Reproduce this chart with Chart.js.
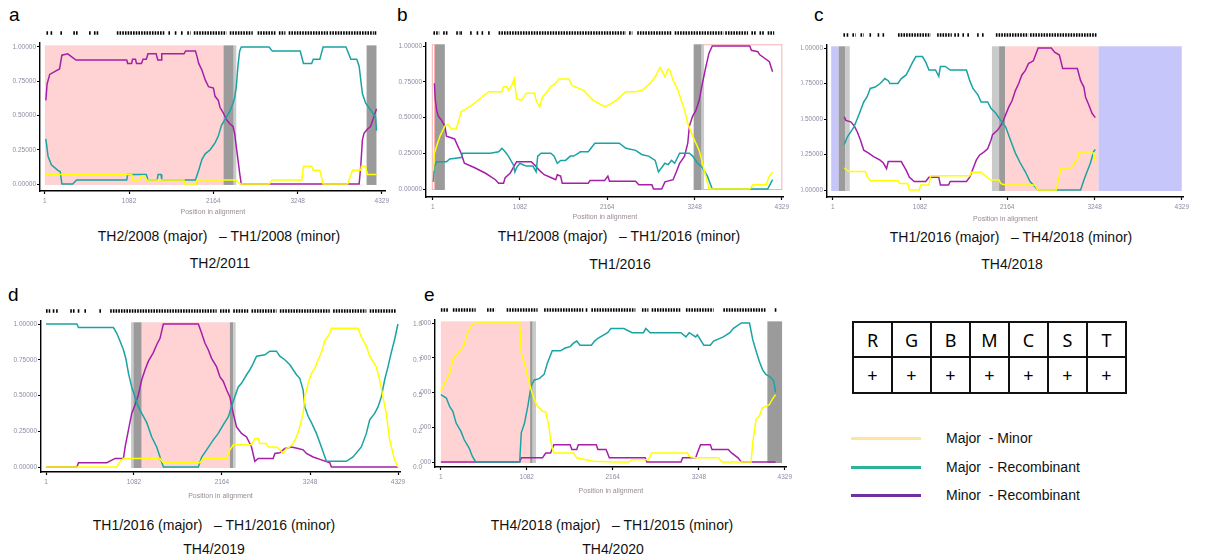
<!DOCTYPE html>
<html>
<head>
<meta charset="utf-8">
<script src="https://cdn.jsdelivr.net/npm/chart.js@4.4.0/dist/chart.umd.min.js"></script>
<style>
  body { margin: 0; background: #fff; width: 1208px; height: 560px; position: relative; overflow: hidden;
         font-family: "Liberation Sans", Arial, sans-serif; }
  canvas { position: absolute; }
  .letter { position: absolute; font-size: 19px; line-height: 19px; color: #000; }
  .cap { position: absolute; font-size: 14px; line-height: 16px; transform: translate(-50%, -50%); white-space: pre; color: #111; }
  table.ser { position: absolute; left: 852px; top: 321px; border-collapse: collapse;
              font-family: "Noto Sans", "Open Sans", sans-serif; }
  table.ser td { border: 2px solid #111; width: 37px; text-align: center; padding: 0; }
  table.ser tr.h td { height: 33px; font-size: 18px; }
  table.ser tr.p td { height: 34px; font-size: 18px; }
  .leg { position: absolute; left: 851px; width: 70px; height: 3px; }
  .legt { position: absolute; left: 946px; font-size: 14px; line-height: 16px; transform: translateY(-50%); white-space: pre; color: #111; }
</style>
</head>
<body>

<div class="letter" style="left:9px;top:5px">a</div>
<div class="letter" style="left:397px;top:5px">b</div>
<div class="letter" style="left:814px;top:5px">c</div>
<div class="letter" style="left:8px;top:285px">d</div>
<div class="letter" style="left:424px;top:285px">e</div>

<div class="cap" style="left:219px;top:236px">TH2/2008 (major)   – TH1/2008 (minor)</div>
<div class="cap" style="left:220px;top:263px">TH2/2011</div>
<div class="cap" style="left:619px;top:236px">TH1/2008 (major)   – TH1/2016 (minor)</div>
<div class="cap" style="left:620px;top:264px">TH1/2016</div>
<div class="cap" style="left:1011px;top:237px">TH1/2016 (major)   – TH4/2018 (minor)</div>
<div class="cap" style="left:1012px;top:264px">TH4/2018</div>
<div class="cap" style="left:214px;top:525px">TH1/2016 (major)   – TH1/2016 (minor)</div>
<div class="cap" style="left:214px;top:549px">TH4/2019</div>
<div class="cap" style="left:612px;top:525px">TH4/2018 (major)   – TH1/2015 (minor)</div>
<div class="cap" style="left:613px;top:549px">TH4/2020</div>

<table class="ser">
  <tr class="h"><td>R</td><td>G</td><td>B</td><td>M</td><td>C</td><td>S</td><td>T</td></tr>
  <tr class="p"><td>+</td><td>+</td><td>+</td><td>+</td><td>+</td><td>+</td><td>+</td></tr>
</table>

<div class="leg" style="top:437px;background:#fde69b"></div>
<div class="legt" style="top:438px">Major  - Minor</div>
<div class="leg" style="top:466px;background:#2db39a"></div>
<div class="legt" style="top:467px">Major  - Recombinant</div>
<div class="leg" style="top:494px;background:#7030a0"></div>
<div class="legt" style="top:495px">Minor  - Recombinant</div>

<script>
// axes
const xTicks = [1, 1082, 2164, 3248, 4329];
const yTicks = [0, 0.25, 0.5, 0.75, 1];

// a: TH2/2011
const aMajMin = [[13,.07],[1115,.07],[1127,.03],[1220,.03],[1241,.06],[1283,.06],[1304,.03],[1788,.03],[1801,0],[1948,0],[1956,.03],[2460,.03],[2503,0],[2881,0],[2923,.03],[3302,.03],[3323,.13],[3428,.13],[3449,.10],[3533,.10],[3575,0],[3890,0],[3953,.10],[4059,.10],[4067,.13],[4122,.13],[4143,.07],[4261,.07]];
const aMajRec = [[13,.33],[42,.20],[84,.14],[168,.10],[198,.09],[219,0],[358,0],[408,.03],[1052,.03],[1064,.07],[1304,.07],[1325,.03],[1443,.03],[1455,.07],[1493,.07],[1502,.03],[1935,.03],[1977,.10],[2019,.18],[2061,.22],[2124,.25],[2187,.30],[2229,.35],[2271,.43],[2334,.49],[2376,.53],[2418,.59],[2439,.63],[2460,.71],[2481,.86],[2503,.97],[2524,1],[2881,1],[2923,.97],[3281,.97],[3323,.88],[3428,.88],[3449,.91],[3533,.91],[3575,1],[3869,1],[3932,.91],[4008,.91],[4038,.86],[4080,.66],[4122,.59],[4185,.54],[4248,.49],[4261,.39]];
const aMinRec = [[13,.61],[29,.73],[63,.80],[126,.82],[189,.84],[219,.94],[294,.95],[400,.905],[1052,.905],[1064,.88],[1115,.88],[1127,.91],[1165,.91],[1178,.88],[1241,.88],[1262,.91],[1304,.91],[1325,.95],[1430,.95],[1451,.905],[1493,.905],[1502,.95],[1788,.95],[1809,.97],[1935,.97],[1956,.93],[1977,.88],[2019,.83],[2061,.76],[2103,.71],[2166,.70],[2187,.64],[2229,.61],[2250,.56],[2292,.52],[2334,.47],[2376,.44],[2418,.42],[2439,.37],[2460,.27],[2481,.18],[2503,.08],[2524,0],[4038,0],[4059,.13],[4080,.32],[4101,.37],[4143,.40],[4185,.42],[4227,.49],[4261,.55]];
const aZones = [['pink',1,2296],['grey',2296,2427],['light',2427,2460],['grey',4134,4261]];
const aSites = [[21,55],[84,105],[210,231],[366,425],[568,601],[631,694],[925,1535],[1598,1620],[1680,1700],[1760,1780],[1830,1872],[1914,2334],[2376,2671],[2734,2965],[3007,3091],[3133,3638],[3659,4227],[4248,4269]];

// b: TH1/2016
const bMajMin = [[8,.13],[20,.25],[49,.30],[89,.37],[150,.44],[190,.45],[231,.42],[291,.42],[352,.54],[413,.56],[493,.59],[615,.645],[696,.68],[858,.68],[878,.715],[918,.715],[938,.69],[979,.725],[1011,.77],[1040,.63],[1100,.62],[1161,.67],[1262,.67],[1282,.62],[1323,.575],[1363,.645],[1404,.67],[1464,.715],[1525,.74],[1565,.77],[1687,.77],[1727,.725],[1869,.69],[1990,.62],[2132,.575],[2192,.59],[2273,.62],[2395,.68],[2516,.68],[2597,.69],[2698,.74],[2759,.785],[2819,.85],[2840,.83],[2880,.785],[2920,.84],[2941,.83],[2981,.76],[3042,.69],[3123,.55],[3163,.46],[3224,.37],[3264,.32],[3305,.27],[3345,.18],[3386,.09],[3426,0],[3932,0],[3972,.03],[4134,.03],[4175,.09],[4215,.12]];
const bMajRec = [[8,.05],[20,.16],[49,.19],[170,.19],[210,.21],[352,.22],[372,.25],[716,.25],[817,.26],[858,.285],[898,.26],[938,.23],[999,.17],[1019,.12],[1040,.15],[1080,.18],[1120,.17],[1161,.16],[1242,.16],[1282,.12],[1302,.23],[1343,.25],[1464,.25],[1505,.23],[1545,.18],[1586,.20],[1646,.20],[1707,.23],[1747,.23],[1808,.25],[1828,.26],[1929,.26],[2010,.32],[2314,.32],[2395,.285],[2516,.27],[2597,.24],[2678,.23],[2759,.20],[2799,.12],[2840,.15],[2880,.18],[2920,.17],[2961,.20],[3001,.18],[3062,.25],[3183,.25],[3224,.23],[3285,.18],[3345,.15],[3406,.09],[3467,0],[4154,0],[4215,.065]];
const bMinRec = [[20,.74],[32,.62],[49,.55],[69,.51],[109,.48],[150,.44],[170,.37],[271,.35],[311,.30],[352,.25],[392,.18],[514,.15],[655,.11],[777,.065],[817,.04],[878,.04],[898,.08],[959,.11],[999,.15],[1019,.17],[1040,.19],[1222,.19],[1262,.17],[1323,.13],[1383,.10],[1464,.08],[1525,.065],[1545,.10],[1586,.09],[1606,.04],[1929,.04],[1950,.06],[2132,.06],[2172,.09],[2192,.055],[2516,.055],[2556,.03],[2718,.03],[2738,0],[2840,0],[2880,.05],[2981,.065],[3022,.12],[3062,.18],[3123,.23],[3163,.32],[3183,.44],[3224,.51],[3264,.55],[3305,.62],[3345,.74],[3386,.85],[3426,.95],[3467,1],[3932,1],[3952,.97],[4033,.96],[4053,.94],[4175,.89],[4215,.82]];
const bZones = [['outline',-12,28],['grey',28,150],['outline',3325,4336],['grey',3236,3333],['light',3333,3365]];
const bSites = [[8,81],[129,190],[291,332],[352,372],[473,473],[554,554],[615,615],[696,696],[817,2395],[2435,2476],[2536,2961],[3001,3608],[3628,3911],[3952,4013],[4053,4114],[4154,4235]];

// c: TH4/2018
const cMajMin = [[142,.155],[202,.13],[405,.13],[425,.095],[465,.065],[809,.065],[829,.045],[930,.045],[951,0],[1072,0],[1092,.035],[1193,.035],[1214,.10],[1699,.10],[1719,.125],[1840,.125],[1901,.095],[1962,.07],[2063,.07],[2083,.045],[2144,.035],[2508,.035],[2548,0],[2771,0],[2832,.155],[2953,.155],[3034,.215],[3054,.26],[3236,.26],[3256,.20]];
const cMajRec = [[142,.32],[182,.375],[263,.445],[303,.50],[344,.56],[384,.62],[425,.655],[465,.715],[526,.725],[587,.75],[647,.785],[688,.77],[708,.75],[809,.75],[849,.785],[910,.81],[951,.855],[991,.90],[1031,.94],[1112,.94],[1153,.90],[1193,.845],[1274,.845],[1315,.80],[1335,.87],[1396,.87],[1456,.845],[1658,.845],[1699,.77],[1739,.715],[1800,.67],[1840,.62],[1921,.62],[1962,.575],[2023,.54],[2083,.49],[2144,.445],[2205,.35],[2265,.26],[2326,.19],[2387,.13],[2447,.06],[2548,0],[3074,0],[3115,.07],[3155,.13],[3196,.19],[3236,.27],[3256,.285]];
const cMinRec = [[142,.515],[162,.49],[222,.48],[263,.455],[303,.41],[344,.35],[384,.28],[445,.26],[506,.235],[587,.21],[627,.19],[667,.15],[688,.20],[849,.20],[910,.14],[951,.09],[1011,.06],[1153,.06],[1193,.09],[1315,.09],[1335,.035],[1436,.035],[1456,.06],[1658,.06],[1699,.09],[1739,.15],[1780,.21],[1820,.245],[1881,.27],[1921,.29],[1962,.35],[1982,.39],[2043,.42],[2103,.47],[2144,.53],[2184,.585],[2225,.63],[2265,.70],[2306,.75],[2346,.81],[2387,.84],[2427,.89],[2488,.91],[2548,1],[2710,1],[2751,.97],[2811,.95],[2852,.855],[3034,.855],[3074,.77],[3115,.725],[3135,.655],[3175,.60],[3216,.54],[3256,.51]];
const cZones = [['blue',-20,73],['grey',73,154],['light',154,210],['light',1974,2063],['grey',2063,2136],['pink',2136,3297],['blue',3297,4329]];
const cSites = [[142,142],[182,182],[243,283],[344,384],[465,465],[566,566],[627,627],[809,1214],[1294,1476],[1517,1517],[1557,1557],[1618,1618],[1679,1679],[1800,1800],[1861,1861],[2023,2427],[2447,3276]];

// d: TH4/2019
const dMajMin = [[1,0],[871,0],[912,.04],[953,.06],[1403,.06],[1444,.03],[1894,.03],[1935,.06],[2221,.06],[2262,.12],[2303,.155],[2528,.155],[2569,.20],[2610,.20],[2631,.165],[2712,.165],[2733,.14],[2835,.14],[2876,.12],[2917,.095],[2958,.13],[2999,.14],[3040,.165],[3081,.21],[3121,.28],[3162,.375],[3183,.49],[3224,.585],[3265,.655],[3306,.69],[3347,.75],[3387,.80],[3428,.88],[3490,.935],[3510,.97],[3837,.97],[3878,.91],[3940,.845],[3981,.775],[4062,.70],[4103,.61],[4144,.49],[4185,.375],[4226,.19],[4287,.05],[4328,0]];
const dMajRec = [[1,1],[380,1],[401,.975],[830,.975],[871,.935],[912,.88],[953,.82],[986,.75],[1015,.655],[1055,.56],[1096,.49],[1137,.42],[1178,.375],[1240,.31],[1301,.21],[1362,.14],[1403,.07],[1444,0],[1874,0],[1915,.07],[1976,.12],[2058,.19],[2119,.235],[2180,.295],[2242,.35],[2303,.46],[2365,.56],[2405,.585],[2467,.645],[2508,.68],[2549,.725],[2590,.775],[2692,.785],[2753,.81],[2835,.81],[2876,.775],[2937,.75],[2999,.715],[3040,.68],[3081,.645],[3121,.62],[3162,.54],[3183,.42],[3224,.355],[3265,.31],[3326,.235],[3387,.14],[3449,.04],[3694,.04],[3776,.07],[3878,.14],[3940,.235],[3981,.33],[4042,.375],[4083,.42],[4124,.49],[4165,.61],[4206,.70],[4246,.80],[4287,.89],[4328,1]];
const dMinRec = [[1,0],[380,0],[401,.03],[749,.03],[851,.06],[953,.06],[974,.14],[1015,.26],[1055,.375],[1096,.435],[1137,.505],[1178,.61],[1219,.68],[1260,.74],[1321,.80],[1362,.855],[1403,.90],[1444,1],[1874,1],[1915,.935],[1956,.865],[1996,.82],[2037,.76],[2099,.70],[2140,.63],[2180,.60],[2221,.54],[2262,.49],[2303,.375],[2344,.28],[2405,.235],[2467,.21],[2528,.14],[2569,.04],[2610,.06],[2794,.06],[2815,.095],[2876,.10],[2937,.13],[3019,.14],[3101,.13],[3162,.12],[3203,.095],[3285,.07],[3387,.05],[3490,.03],[3510,0],[4328,0]];
const dZones = [['light',1047,1076],['grey',1076,1178],['pink',1178,2262],['grey',2262,2303],['light',2303,2332]];
const dSites = [[1,53],[94,94],[135,135],[299,360],[401,401],[483,483],[667,667],[790,2099],[2140,2262],[2303,2487],[2528,2835],[2876,3490],[3531,3940],[3981,4308]];

// e: TH4/2020
const eMajMin = [[1,.51],[29,.545],[70,.59],[111,.64],[152,.735],[193,.77],[254,.81],[295,.845],[336,.93],[398,.99],[439,1],[993,1],[1013,.785],[1054,.71],[1095,.615],[1136,.52],[1177,.45],[1218,.40],[1280,.365],[1321,.36],[1362,.255],[1382,.16],[1403,.10],[1423,.065],[1670,.065],[1711,.03],[1916,.005],[2203,0],[2367,0],[2408,.017],[2613,.017],[2654,.065],[3105,.065],[3126,.04],[3187,.03],[3495,.03],[3536,0],[3905,0],[3926,.14],[3967,.305],[4008,.33],[4049,.39],[4131,.41],[4172,.45],[4213,.485]];
const eMajRec = [[1,.485],[70,.46],[111,.40],[152,.365],[193,.28],[254,.22],[295,.16],[357,.10],[398,.04],[439,0],[993,0],[1013,.21],[1054,.28],[1095,.40],[1136,.545],[1177,.59],[1239,.60],[1300,.63],[1341,.71],[1403,.80],[1505,.80],[1567,.82],[1628,.83],[1670,.855],[1711,.87],[1752,.84],[1895,.84],[1936,.87],[1977,.89],[2100,.93],[2141,.96],[2305,.96],[2408,.93],[2551,.93],[2580,.96],[2634,.93],[3023,.93],[3085,.90],[3126,.93],[3208,.90],[3229,.915],[3310,.84],[3392,.84],[3433,.87],[3556,.90],[3638,.93],[3680,.96],[3782,1],[3885,1],[3926,.88],[3967,.80],[4008,.725],[4049,.665],[4090,.63],[4151,.61],[4192,.58],[4213,.50]];
const eMinRec = [[1,0],[993,0],[1013,.03],[1280,.03],[1321,.065],[1382,.065],[1423,.125],[1628,.125],[1649,.09],[1711,.09],[1731,.125],[1957,.125],[1977,.09],[2080,.09],[2121,.03],[2572,.03],[2593,0],[3023,0],[3044,.03],[3208,.03],[3229,.065],[3269,.125],[3392,.125],[3413,.09],[3618,.09],[3659,.065],[3741,.03],[3782,0],[4213,0]];
const eZones = [['pink',1,1124],['grey',1124,1157],['light',1157,1198],['grey',4110,4295]];
const eSites = [[1,90],[152,439],[582,685],[829,1218],[1300,1793],[1834,1834],[1895,2449],[2531,2613],[2654,3023],[3085,3433],[3556,4090],[4213,4213]];

const seriesColors = ['#ffff00', '#1aa3a3', '#a51fa8'];
const zoneColors = { pink: '#ffd3d3', grey: '#9b9b9b', light: '#cacaca', blue: '#c6c6fa' };
const tickColor = '#8c8ca4';
const FONT = '"Liberation Sans", Arial, sans-serif';

// box = [left, top, width, height] of canvas on the page; other numbers are page pixels
const panels = [
  { box: [8, 22, 384, 194],   axisX: 40,  axisY: 191, top: 43,  right: 392,  px1: 45,  pxN: 388,  py1: 47,  py0: 184,
    series: [aMajMin, aMajRec, aMinRec], zones: aZones, sites: aSites },
  { box: [388, 22, 404, 199], axisX: 426, axisY: 197, top: 43,  right: 792,  px1: 433, pxN: 790,  py1: 46,  py0: 189,
    series: [bMajMin, bMajRec, bMinRec], zones: bZones, sites: bSites },
  { box: [801, 22, 391, 201], axisX: 827, axisY: 197, top: 45,  right: 1192, px1: 833, pxN: 1190, py1: 48,  py0: 190,
    series: [cMajMin, cMajRec, cMinRec], zones: cZones, sites: cSites },
  { box: [4, 300, 418, 200],  axisX: 41,  axisY: 472, top: 321, right: 400,  px1: 46,  pxN: 398,  py1: 324, py0: 467,
    series: [dMajMin, dMajRec, dMinRec], zones: dZones, sites: dSites, rightAxis: true },
  { box: [420, 300, 375, 195], axisX: 435, axisY: 467, top: 320, right: 795, px1: 441, pxN: 793,  py1: 323, py0: 462,
    series: [eMajMin, eMajRec, eMinRec], zones: eZones, sites: eSites }
];

const zonesPlugin = {
  id: 'zones',
  beforeDatasetsDraw(chart, args, opts) {
    const { ctx, chartArea, scales: { x, y } } = chart;
    const yt = y.getPixelForValue(1.012), yb = y.getPixelForValue(-0.007);
    ctx.save();
    ctx.beginPath();
    ctx.rect(chartArea.left + 1, chartArea.top, chartArea.width, chartArea.height);
    ctx.clip();
    opts.zones.forEach(([kind, from, to]) => {
      const x0 = x.getPixelForValue(from), x1 = x.getPixelForValue(to);
      if (kind === 'outline') {
        ctx.strokeStyle = '#f6b0b0';
        ctx.lineWidth = 1;
        ctx.strokeRect(x0 + 0.5, yt + 0.5, x1 - x0 - 1, yb - yt - 1);
      } else {
        ctx.fillStyle = zoneColors[kind];
        ctx.fillRect(x0, yt, x1 - x0, yb - yt);
      }
    });
    ctx.restore();
  },
  afterDraw(chart, args, opts) {
    // informative sites row above the plot
    const { ctx, chartArea, scales: { x } } = chart;
    const yy = chartArea.top - 10;
    ctx.save();
    ctx.fillStyle = '#000';
    ctx.strokeStyle = '#000';
    ctx.lineWidth = 3.5;
    ctx.setLineDash([1.6, 1.1]);
    opts.sites.forEach(([a, b]) => {
      const x0 = x.getPixelForValue(a), x1 = x.getPixelForValue(b);
      if (x1 - x0 < 2) {
        ctx.fillRect(x0 - 0.8, yy - 1.75, 1.6, 3.5);
      } else {
        ctx.beginPath();
        ctx.moveTo(x0, yy);
        ctx.lineTo(x1, yy);
        ctx.stroke();
      }
    });
    ctx.restore();
  }
};

function makePanel(p) {
  const [cl, ct, cw, ch] = p.box;
  const cv = document.createElement('canvas');
  cv.width = cw; cv.height = ch;
  cv.style.left = cl + 'px'; cv.style.top = ct + 'px';
  document.body.appendChild(cv);

  const sx = 4328 / (p.pxN - p.px1);
  const sy = 1 / (p.py0 - p.py1);
  const xmin = 1 - (p.px1 - p.axisX) * sx, xmax = 4329 + (p.right - p.pxN) * sx;
  const ymin = -(p.axisY - p.py0) * sy, ymax = 1 + (p.py1 - p.top) * sy;
  const yW = p.axisX - cl, xH = ct + ch - p.axisY, rW = p.rightAxis ? cl + cw - p.right : 0;

  const tickFont = { family: FONT, size: 6.5 };
  const scales = {
    x: {
      type: 'linear', min: xmin, max: xmax,
      afterBuildTicks: s => { s.ticks = xTicks.map(v => ({ value: v })); },
      afterFit: s => { s.height = xH; },
      ticks: { font: tickFont, color: tickColor, padding: 3, maxRotation: 0, autoSkip: false, callback: v => String(v) },
      grid: { drawOnChartArea: false, color: '#000', tickLength: 3, tickWidth: 1.2 },
      border: { color: '#000', width: 1.4 },
      title: { display: true, text: 'Position in alignment', font: { family: FONT, size: 7 }, color: '#9a8a94', padding: 0 }
    },
    y: {
      type: 'linear', min: ymin, max: ymax,
      afterBuildTicks: s => { s.ticks = yTicks.map(v => ({ value: v })); },
      afterFit: s => { s.width = yW; },
      ticks: { font: tickFont, color: tickColor, padding: 1, callback: v => v.toFixed(5) },
      grid: { drawOnChartArea: false, color: '#000', tickLength: 3, tickWidth: 1.2 },
      border: { color: '#000', width: 1.4 }
    }
  };
  if (p.rightAxis) {
    scales.y2 = {
      type: 'linear', position: 'right', min: ymin, max: ymax,
      afterBuildTicks: s => { s.ticks = yTicks.map(v => ({ value: v })); },
      afterFit: s => { s.width = rW; },
      ticks: { font: tickFont, color: tickColor, padding: 5, callback: v => v.toFixed(2) },
      grid: { display: false },
      border: { display: false }
    };
  }

  new Chart(cv, {
    type: 'line',
    data: {
      datasets: p.series.map((d, i) => ({
        data: d,
        borderColor: seriesColors[i],
        borderWidth: 1.5,
        pointRadius: 0,
        tension: 0,
        fill: false
      }))
    },
    options: {
      responsive: false,
      animation: false,
      events: [],
      layout: { padding: { top: p.top - ct, right: cl + cw - p.right - rW, left: 0, bottom: 0 } },
      plugins: { legend: { display: false }, tooltip: { enabled: false }, zones: { zones: p.zones, sites: p.sites } },
      scales: scales
    },
    plugins: [zonesPlugin]
  });
}

panels.forEach(makePanel);
</script>
</body>
</html>
